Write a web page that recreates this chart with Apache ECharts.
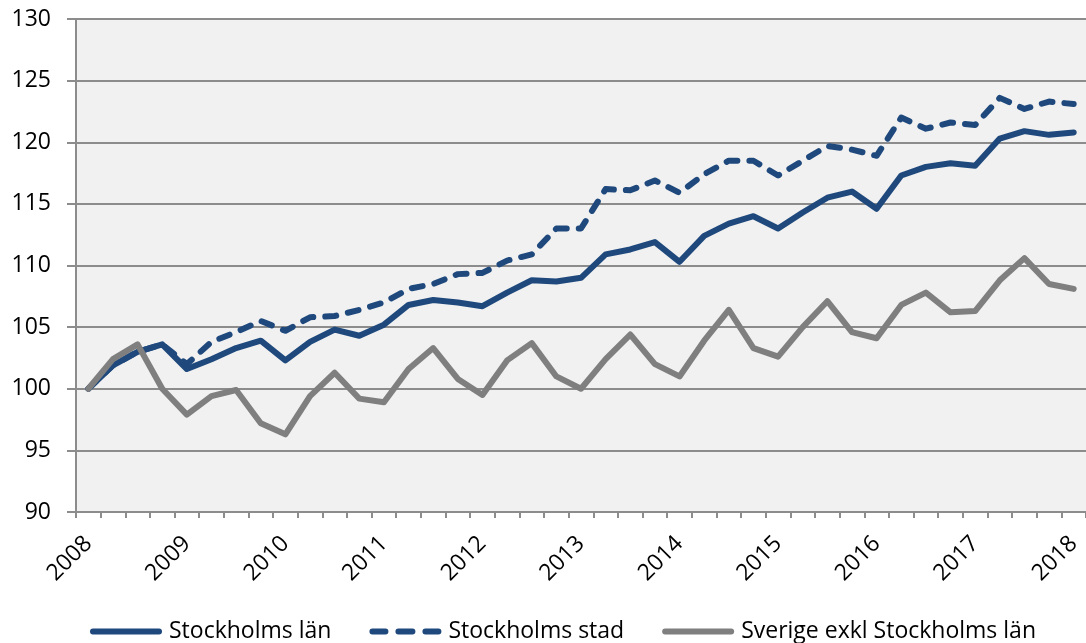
<!DOCTYPE html>
<html>
<head>
<meta charset="utf-8">
<script src="https://cdn.jsdelivr.net/npm/echarts@6/dist/echarts.min.js"></script>
<style>
html,body{margin:0;padding:0;background:#fff;}
#chart{width:1086px;height:643px;}
</style>
</head>
<body>
<div id="chart"></div>
<script>
const quarters = [
  '2008 K1','2008 K2','2008 K3','2008 K4',
  '2009 K1','2009 K2','2009 K3','2009 K4',
  '2010 K1','2010 K2','2010 K3','2010 K4',
  '2011 K1','2011 K2','2011 K3','2011 K4',
  '2012 K1','2012 K2','2012 K3','2012 K4',
  '2013 K1','2013 K2','2013 K3','2013 K4',
  '2014 K1','2014 K2','2014 K3','2014 K4',
  '2015 K1','2015 K2','2015 K3','2015 K4',
  '2016 K1','2016 K2','2016 K3','2016 K4',
  '2017 K1','2017 K2','2017 K3','2017 K4',
  '2018 K1'
];
const seriesNames = ['Stockholms län', 'Stockholms stad', 'Sverige exkl Stockholms län'];
const stockholmsLan = [
  100.0, 101.9, 103.0, 103.6, 101.6, 102.4, 103.3, 103.9,
  102.3, 103.8, 104.8, 104.3, 105.2, 106.8, 107.2, 107.0,
  106.7, 107.8, 108.8, 108.7, 109.0, 110.9, 111.3, 111.9,
  110.3, 112.4, 113.4, 114.0, 113.0, 114.3, 115.5, 116.0,
  114.6, 117.3, 118.0, 118.3, 118.1, 120.3, 120.9, 120.6,
  120.8
];
const stockholmsStad = [
  100.0, 101.9, 103.0, 103.6, 102.0, 103.8, 104.6, 105.5,
  104.7, 105.8, 105.9, 106.4, 107.0, 108.1, 108.5, 109.3,
  109.4, 110.4, 110.9, 113.0, 113.0, 116.2, 116.1, 116.9,
  115.9, 117.4, 118.5, 118.5, 117.3, 118.5, 119.7, 119.4,
  118.9, 122.0, 121.1, 121.6, 121.4, 123.6, 122.7, 123.3,
  123.1
];
const sverigeExkl = [
  100.0, 102.4, 103.6, 100.0, 97.9, 99.4, 99.9, 97.2,
  96.3, 99.4, 101.3, 99.2, 98.9, 101.6, 103.3, 100.8,
  99.5, 102.3, 103.7, 101.0, 100.0, 102.4, 104.4, 102.0,
  101.0, 103.9, 106.4, 103.3, 102.6, 105.0, 107.1, 104.6,
  104.1, 106.8, 107.8, 106.2, 106.3, 108.8, 110.6, 108.5,
  108.1
];

const FONT = 'Open Sans';
const BLUE = '#1F497D';
const GRAY = '#7F7F7F';
const AXIS = '#8C8C8C';

// legend icons: rounded bars (solid) and three rounded dashes
const ICON_SOLID = 'path://M3,0H69A3,3 0 0 1 69,6H3A3,3 0 0 1 3,0Z';
const ICON_DASH = 'path://M3,0H16A3,3 0 0 1 16,6H3A3,3 0 0 1 3,0Z' +
  'M29,0H43A3,3 0 0 1 43,6H29A3,3 0 0 1 29,0Z' +
  'M56,0H69A3,3 0 0 1 69,6H56A3,3 0 0 1 56,0Z';

const chart = echarts.init(document.getElementById('chart'), null, {renderer: 'canvas'});
chart.setOption({
  animation: false,
  backgroundColor: '#ffffff',
  textStyle: {fontFamily: FONT},
  grid: {
    left: 76, top: 19, width: 1013, height: 493,
    show: true, backgroundColor: '#F1F1F1', borderWidth: 0
  },
  legend: {
    left: 90, top: 620,
    itemWidth: 72, itemHeight: 6, itemGap: 38,
    padding: 0,
    textStyle: {fontFamily: FONT, fontSize: 23, color: '#000', padding: [0, 0, 0, 2]},
    data: [
      {name: seriesNames[0], icon: ICON_SOLID, itemStyle: {color: BLUE}},
      {name: seriesNames[1], icon: ICON_DASH, itemStyle: {color: BLUE}},
      {name: seriesNames[2], icon: ICON_SOLID, itemStyle: {color: GRAY}}
    ]
  },
  xAxis: {
    type: 'category',
    data: quarters,
    boundaryGap: true,
    axisLine: {show: true, lineStyle: {color: AXIS, width: 2}},
    axisTick: {show: true, interval: 0, length: 6, lineStyle: {color: AXIS, width: 2}},
    axisLabel: {
      interval: 3, rotate: 45, margin: 28,
      fontFamily: FONT, fontSize: 23, color: '#000',
      formatter: v => v.slice(0, 4)
    },
    splitLine: {show: false}
  },
  yAxis: {
    type: 'value',
    min: 90, max: 130, interval: 5,
    axisLine: {show: true, lineStyle: {color: AXIS, width: 2}},
    axisTick: {show: true, length: 9, lineStyle: {color: AXIS, width: 2}},
    axisLabel: {margin: 25, fontFamily: FONT, fontSize: 23, color: '#000'},
    splitLine: {show: true, lineStyle: {color: AXIS, width: 2}}
  },
  series: [
    {
      name: seriesNames[0], type: 'line', data: stockholmsLan,
      symbol: 'none', showSymbol: false,
      lineStyle: {color: BLUE, width: 6, cap: 'round', join: 'round'},
      itemStyle: {color: BLUE}
    },
    {
      name: seriesNames[1], type: 'line', data: stockholmsStad,
      symbol: 'none', showSymbol: false,
      lineStyle: {color: BLUE, width: 6, type: [11, 12], cap: 'round', join: 'round'},
      itemStyle: {color: BLUE}
    },
    {
      name: seriesNames[2], type: 'line', data: sverigeExkl,
      symbol: 'none', showSymbol: false,
      lineStyle: {color: GRAY, width: 6, cap: 'round', join: 'round'},
      itemStyle: {color: GRAY}
    }
  ]
});
</script>
</body>
</html>
